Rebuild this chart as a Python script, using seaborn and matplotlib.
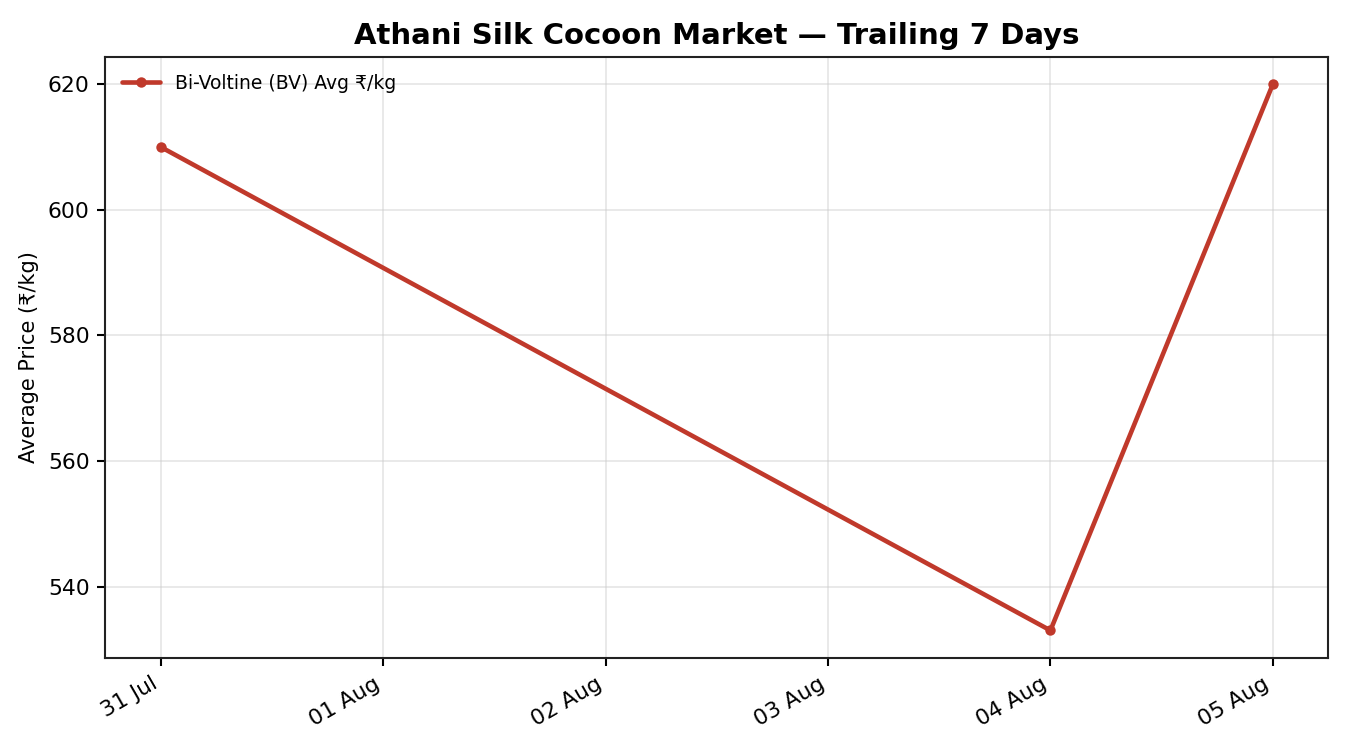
import pandas as pd
import matplotlib
matplotlib.use("Agg")
import matplotlib.pyplot as plt
import matplotlib.dates as mdates
import seaborn as sns

sns.set_style("whitegrid")
plt.rcParams["font.family"] = ["DejaVu Sans"]
plt.rcParams["text.color"] = "black"
plt.rcParams["axes.labelcolor"] = "black"
plt.rcParams["xtick.color"] = "black"
plt.rcParams["ytick.color"] = "black"

dates = ["2024-07-31", "2024-08-04", "2024-08-05"]
bv_avg = [610, 533, 620]

df = pd.DataFrame({"Date": pd.to_datetime(dates), "Price": bv_avg})

fig, ax = plt.subplots(figsize=(9, 5), dpi=150)
sns.lineplot(
    data=df,
    x="Date",
    y="Price",
    marker="o",
    markersize=5,
    markeredgewidth=0,
    color="#c0392b",
    linewidth=2.2,
    label="Bi-Voltine (BV) Avg ₹/kg",
    ax=ax,
)

ax.set_title("Athani Silk Cocoon Market — Trailing 7 Days", fontsize=14, fontweight="bold")
ax.set_xlabel("")
ax.set_ylabel("Average Price (₹/kg)", fontsize=10)
ax.tick_params(axis="both", labelsize=10.5, length=4, width=1, color="black", bottom=True, left=True)
ax.xaxis.set_major_locator(mdates.DayLocator())
ax.xaxis.set_major_formatter(mdates.DateFormatter("%d %b"))
ax.grid(True, color="#cccccc", linewidth=0.8, alpha=0.5)
for s in ax.spines.values():
    s.set_color("#222222")
    s.set_linewidth(1.0)
ax.legend(loc="upper left", frameon=False, fontsize=9)
fig.autofmt_xdate(rotation=30, ha="right")

fig.subplots_adjust(left=0.078, right=0.984, top=0.924, bottom=0.123)
fig.savefig("out.png", dpi=150)
